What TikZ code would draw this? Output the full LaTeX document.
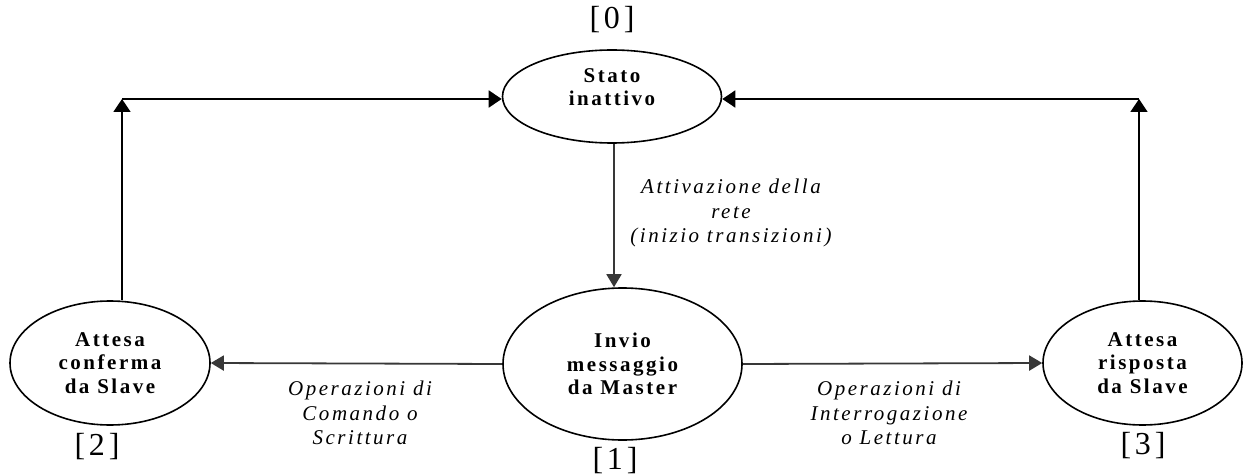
\documentclass[tikz,border=0pt]{standalone}
\usepackage{fontspec}
\setmainfont[LetterSpace=12]{Liberation Serif}
\newfontfamily\tagfont[LetterSpace=12]{Liberation Serif}
\usetikzlibrary{arrows.meta,shapes.geometric}

\tikzset{
  state/.style={draw=black, line width=1.6pt, ellipse, inner sep=0pt, align=center,
    font=\fontsize{21}{23.5}\selectfont\bfseries},
  edgelabel/.style={align=center, font=\fontsize{21}{24.5}\selectfont\itshape},
  tag/.style={font=\tagfont\fontsize{32}{34}\selectfont},
  outer/.style={draw=black, line width=1.8pt},
  outerarrow/.style={outer, -{Triangle[length=13pt,width=17pt]}},
  flow/.style={draw=black!78, line width=1.8pt, -{Triangle[length=13pt,width=15pt]}}
}

\begin{document}
\begin{tikzpicture}[x=1pt, y=-1pt]
  \useasboundingbox (0,0) rectangle (1244,476);

  % states
  \node[state, minimum width=219pt, minimum height=93pt] (stato) at (612,96.5) {};
  \node[state, draw=none] (statotxt) at (612,87) {Stato\\inattivo};
  \node[state, minimum width=239pt, minimum height=152pt] (inv) at (622.5,364) {Invio\\messaggio\\da Master};
  \node[state, minimum width=200pt, minimum height=124pt] (att2) at (110,363) {Attesa\\conferma\\da Slave};
  \node[state, minimum width=199pt, minimum height=124pt] (att3) at (1142.5,363) {Attesa\\risposta\\da Slave};

  % state numbers
  \node[tag] (n0) at (612,20) {[0]};
  \node[tag] (n1) at (615,461) {[1]};
  \node[tag] (n2) at (97,447) {[2]};
  \node[tag] (n3) at (1143,446) {[3]};

  % corners of the return paths
  \coordinate (cl) at (122,99);
  \coordinate (cr) at (1139,99);

  % return paths to the idle state
  \draw[outerarrow] (att2.north -| cl) -- (cl);
  \draw[outerarrow] (cl) -- (stato.west |- cl);
  \draw[outerarrow] (att3.north -| cr) -- (cr);
  \draw[outerarrow] (cr) -- (stato.east |- cr);

  % transitions
  \draw[flow] (stato.south -| 614,0) -- (inv.north -| 614,0);
  \draw[flow] (inv.west) -- (att2.east);
  \draw[flow] (inv.east) -- (att3.west);

  % transition labels
  \node[edgelabel] (l01) at (731,213) {Attivazione della\\rete\\(inizio transizioni)};
  \node[edgelabel] (l12) at (360,413) {Operazioni di\\Comando o\\Scrittura};
  \node[edgelabel] (l13) at (889,413) {Operazioni di\\Interrogazione\\o Lettura};
\end{tikzpicture}
\end{document}
